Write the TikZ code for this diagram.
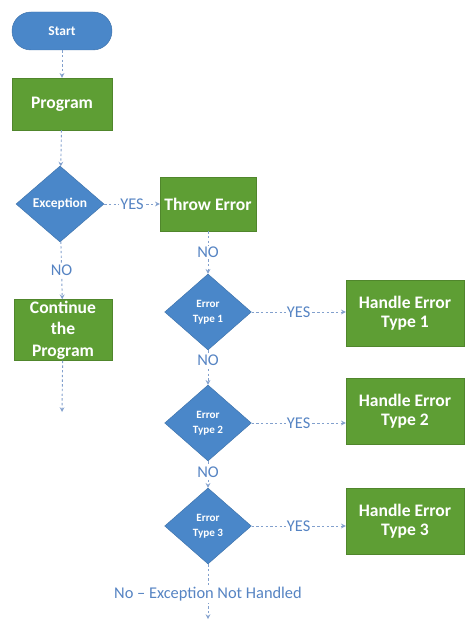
\documentclass[tikz,border=0pt]{standalone}
\usepackage{fontspec}
\setmainfont{Carlito}
\usetikzlibrary{shapes.geometric}
\definecolor{flowblue}{RGB}{74,135,201}
\definecolor{flowgreen}{RGB}{94,158,52}
\definecolor{flowline}{RGB}{130,160,205}
\definecolor{flowtext}{RGB}{86,132,195}
\tikzset{>=stealth}
\tikzset{
  procbox/.style={rectangle,fill=flowgreen,draw=flowgreen!85!black,text=white,
    font=\fontsize{15}{16}\selectfont\bfseries,align=center,inner sep=1pt},
  terminal/.style={rectangle,rounded corners=0.57cm,fill=flowblue,draw=flowblue!85!black,
    text=white,font=\fontsize{11.5}{13}\selectfont\bfseries,minimum width=3cm,minimum height=1.14cm},
  decision/.style={diamond,fill=flowblue,draw=flowblue!85!black,text=white,align=center,
    font=\fontsize{9.5}{13}\selectfont\bfseries,inner sep=0pt,minimum width=2.6cm,minimum height=2.28cm},
  link/.style={->,flowline,line width=0.8pt,dash pattern=on 2pt off 2pt},
  lbl/.style={fill=white,text=flowtext,inner sep=1pt,font=\fontsize{14}{15}\selectfont}
}
\begin{document}
\begin{tikzpicture}[x=0.03cm,y=-0.03cm]
      \useasboundingbox (0,0) rectangle (466,621);
      \node[terminal] (start) at (62,31) {Start};
      \node[procbox,minimum width=3cm,minimum height=1.56cm] (program) at (62,104) {Program};
      \node[decision,minimum width=2.64cm,font=\fontsize{11.5}{13}\selectfont\bfseries] (exception) at (60,204) {Exception};
      \node[procbox,minimum width=2.88cm,minimum height=1.62cm] (throw) at (208,204) {Throw Error};
      \node[procbox,minimum width=2.94cm,minimum height=1.68cm,font=\fontsize{15}{18.5}\selectfont\bfseries] (cont) at (63,330) {Continue\\the\\Program};
      \coordinate (contend) at (62,412);
      \node[decision] (type1) at (208,312) {Error\\Type 1};
      \node[decision] (type2) at (208,423) {Error\\Type 2};
      \node[decision] (type3) at (208,526) {Error\\Type 3};
      \node[procbox,minimum width=3.54cm,minimum height=1.98cm] (handle1) at (405,313) {Handle Error\\Type 1};
      \node[procbox,minimum width=3.54cm,minimum height=1.98cm] (handle2) at (405,411) {Handle Error\\Type 2};
      \node[procbox,minimum width=3.54cm,minimum height=1.98cm] (handle3) at (405,521) {Handle Error\\Type 3};
      \coordinate (notend) at (208,619);
      % main line
      \draw[link] (start) -- (program);
      \draw[link] (program) -- (exception);
      \draw[link] (exception) -- node[lbl] {YES} (throw);
      \draw[link] (exception) -- node[lbl] {NO} (cont);
      \draw[link] (cont) -- (contend);
      % error types
      \draw[link] (throw) -- node[lbl] {NO} (type1);
      \draw[link] (type1) -- node[lbl,pos=0.3] {NO} (type2);
      \draw[link] (type2) -- node[lbl,pos=0.4] {NO} (type3);
      \draw[link] (type3) -- node[lbl,pos=0.55] {No – Exception Not Handled} (notend);
      \draw[link] (type1.east) -- node[lbl] {YES} (type1.east -| handle1.west);
      \draw[link] (type2.east) -- node[lbl] {YES} (type2.east -| handle2.west);
      \draw[link] (type3.east) -- node[lbl] {YES} (type3.east -| handle3.west);
\end{tikzpicture}
\end{document}
